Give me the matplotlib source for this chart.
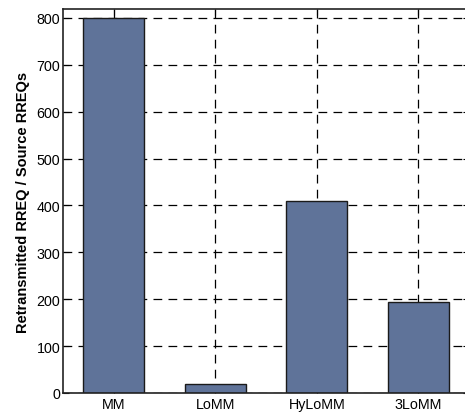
import matplotlib
matplotlib.use("Agg")
import matplotlib.pyplot as plt

categories = ["MM", "LoMM", "HyLoMM", "3LoMM"]
values = [800, 18.5, 409, 195]
yticks = [0, 100, 200, 300, 400, 500, 600, 700, 800]

plt.rcParams["font.family"] = ["Liberation Sans", "DejaVu Sans"]

fig = plt.figure(figsize=(4.65, 4.14), dpi=100)
ax = fig.add_axes([63 / 465, 20 / 414, 406 / 465, 384 / 414])

x = list(range(len(categories)))
ax.bar(x, values, width=0.6, color="#5f7399", edgecolor="#1a1a1a", linewidth=1.0, zorder=2)

ax.set_xlim(-0.5, len(categories) - 0.5)
ax.set_ylim(0, 819)
ax.set_xticks(x)
ax.set_xticklabels(categories, fontsize=10.3)
ax.set_yticks(yticks)
ax.tick_params(axis="y", labelsize=10.3, direction="in", length=4, right=True, pad=2)
ax.tick_params(axis="x", direction="in", length=4, top=True, pad=3)
ax.grid(True, linestyle=(0, (7, 5)), color="black", linewidth=0.9, zorder=0)
ax.set_axisbelow(True)
for s in ax.spines.values():
    s.set_linewidth(1.2)
    s.set_color("#222222")

ax.set_ylabel("Retransmitted RREQ / Source RREQs", fontsize=10.5, fontweight="bold", labelpad=5)

fig.savefig("out.png", dpi=100)
